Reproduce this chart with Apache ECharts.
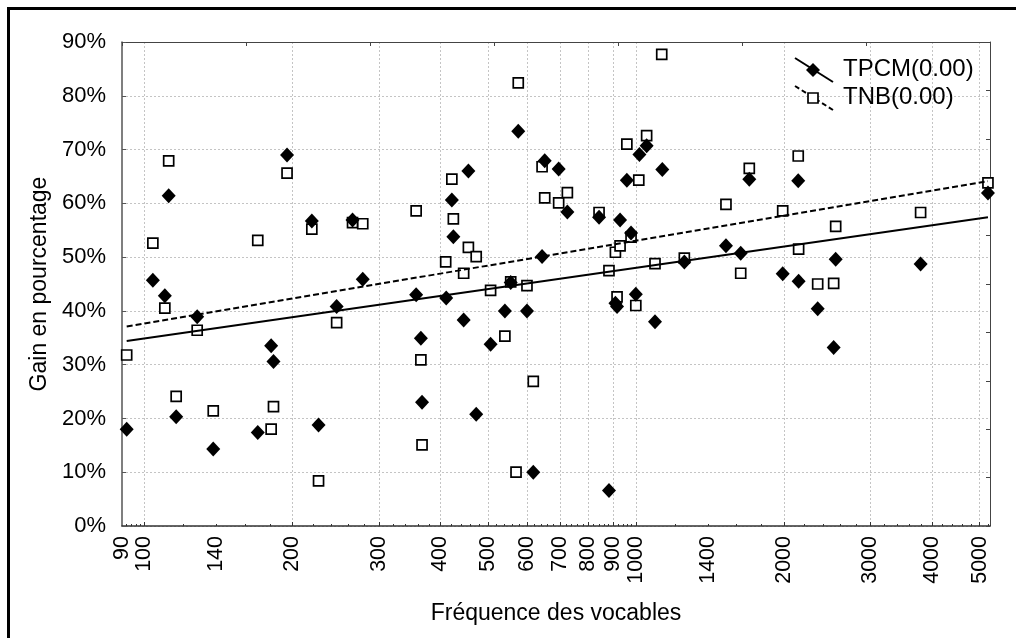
<!DOCTYPE html>
<html>
<head>
<meta charset="utf-8">
<script src="https://cdn.jsdelivr.net/npm/echarts@6/dist/echarts.min.js"></script>
<style>
  html, body { margin: 0; padding: 0; background: #fff; }
  #chart { width: 1016px; height: 638px; }
</style>
</head>
<body>
<div id="chart"></div>
<script>
// Gain (%) against vocable frequency, two methods
const tpcmFreq = [92, 104, 110, 112, 116, 128, 138, 170, 181, 183, 195, 219, 226, 246, 265, 278,
  357, 365, 367, 411, 422, 425, 446, 456, 473, 506, 541, 556, 576, 600, 618, 644, 652, 696, 725,
  841, 881, 908, 915, 928, 958, 977, 999, 1016, 1051, 1093, 1131, 1254, 1524, 1633, 1700, 1988,
  2138, 2142, 2342, 2524, 2548, 3793, 5200];
const tpcmGain = [18.0, 45.7, 42.8, 61.4, 20.3, 38.9, 14.3, 17.4, 33.5, 30.6, 69.0, 56.7, 18.8, 40.8, 56.9, 45.9,
  43.0, 34.9, 23.0, 42.4, 60.6, 53.8, 38.3, 66.0, 20.8, 33.8, 40.0, 45.3, 73.4, 40.0, 10.0, 50.1, 67.9, 66.4, 58.4,
  57.4, 6.6, 41.4, 40.8, 56.9, 64.3, 54.5, 43.1, 69.1, 70.7, 38.0, 66.3, 49.1, 52.1, 50.7, 64.5, 46.9,
  64.2, 45.5, 40.4, 33.2, 49.6, 48.7, 61.9];

const tnbFreq = [92, 104, 110, 112, 116, 128, 138, 170, 181, 183, 195, 219, 226, 246, 265, 278,
  357, 365, 367, 410, 422, 425, 446, 456, 473, 506, 541, 556, 570, 576, 600, 618, 644, 652, 696, 725,
  841, 881, 908, 915, 928, 958, 977, 999, 1013, 1051, 1093, 1128, 1254, 1524, 1633, 1700, 1988,
  2138, 2142, 2342, 2524, 2548, 3793, 5200];
const tnbGain = [31.8, 52.6, 40.5, 67.9, 24.1, 36.4, 21.4, 53.1, 18.0, 22.2, 65.6, 55.2, 8.4, 37.8, 56.4, 56.2,
  58.6, 30.9, 15.1, 49.1, 64.5, 57.1, 47.0, 51.8, 50.1, 43.8, 35.3, 45.4, 10.0, 82.4, 44.7, 26.9, 66.8, 61.0, 60.1, 62.0,
  58.3, 47.5, 50.9, 42.6, 52.1, 71.0, 53.7, 41.0, 64.3, 72.6, 48.8, 87.7, 49.8, 59.8, 47.0, 66.5, 58.6,
  68.8, 51.5, 45.0, 45.1, 55.7, 58.3, 63.8];

// Fitted trend lines (end points)
const fitTPCM = [[92, 34.4], [5200, 57.4]];
const fitTNB = [[92, 37.1], [5200, 64.1]];

// Axis labels and tick marks
const freqLabels = [90, 100, 140, 200, 300, 400, 500, 600, 700, 800, 900, 1000, 1400, 2000, 3000, 4000, 5000];
const freqMajor = [100, 200, 300, 400, 500, 600, 700, 800, 900, 1000, 2000, 3000, 4000, 5000];
const freqMinor = [];
for (let v = 92; v < 100; v += 2) freqMinor.push(v);
for (let v = 120; v < 1000; v += 20) freqMinor.push(v);
for (let v = 1200; v <= 5200; v += 200) freqMinor.push(v);

const legendNames = ['TPCM(0.00)', 'TNB(0.00)'];

const FONT = '"Liberation Sans", Arial, sans-serif';
const pair = (xs, ys) => xs.map((x, i) => [x, ys[i]]);

const chart = echarts.init(document.getElementById('chart'), null, { renderer: 'canvas' });

const gridLine = { show: true, lineStyle: { color: '#c4c4c4', width: 1, type: [2, 2] } };

chart.setOption({
  backgroundColor: '#fff',
  animation: false,
  grid: { left: 122, right: 26, top: 42, bottom: 112, containLabel: false },
  xAxis: [
    {
      type: 'log', logBase: 10, min: 90, max: 5250, position: 'bottom',
      name: 'Fréquence des vocables', nameLocation: 'middle', nameGap: 76,
      nameTextStyle: { fontFamily: FONT, fontSize: 23, color: '#000' },
      axisLine: { show: true, lineStyle: { color: '#333', width: 1.5 } },
      axisTick: { show: true, inside: true, length: 4, customValues: freqMajor, lineStyle: { color: '#333' } },
      axisLabel: {
        customValues: freqLabels, rotate: 90, margin: 10,
        formatter: v => String(Math.round(v)),
        fontFamily: FONT, fontSize: 21.5, color: '#000'
      },
      splitLine: gridLine
    },
    {
      type: 'log', logBase: 10, min: 90, max: 5250, position: 'bottom',
      axisLine: { show: false },
      axisTick: { show: true, inside: true, length: 2, customValues: freqMinor, lineStyle: { color: '#333' } },
      axisLabel: { show: false },
      splitLine: { show: false }
    },
    {
      type: 'value', min: 0, max: 7, interval: 1, position: 'top',
      axisLine: { show: true, onZero: false, lineStyle: { color: '#444', width: 1 } },
      axisTick: { show: true, inside: true, length: 4, lineStyle: { color: '#444' } },
      axisLabel: { show: false },
      splitLine: { show: false }
    }
  ],
  yAxis: [
    {
      type: 'value', min: 0, max: 90, interval: 10, position: 'left',
      name: 'Gain en pourcentage', nameLocation: 'middle', nameGap: 70,
      nameTextStyle: { fontFamily: FONT, fontSize: 23, color: '#000' },
      axisLine: { show: true, onZero: false, lineStyle: { color: '#555', width: 1.5 } },
      axisTick: { show: true, inside: true, length: 4, lineStyle: { color: '#555' } },
      axisLabel: { formatter: '{value}%', margin: 16, fontFamily: FONT, fontSize: 22, color: '#000' },
      splitLine: gridLine
    },
    {
      type: 'value', min: 0, max: 10, interval: 1, position: 'right',
      axisLine: { show: true, onZero: false, lineStyle: { color: '#444', width: 1 } },
      axisTick: { show: true, inside: true, length: 4, lineStyle: { color: '#444' } },
      axisLabel: { show: false },
      splitLine: { show: false }
    }
  ],
  series: [
    {
      name: legendNames[1], type: 'scatter', xAxisIndex: 0, yAxisIndex: 0,
      data: pair(tnbFreq, tnbGain),
      symbol: 'rect', symbolSize: 10, z: 3,
      itemStyle: { color: '#fff', borderColor: '#000', borderWidth: 1.7, opacity: 1 }
    },
    {
      name: legendNames[0], type: 'scatter', xAxisIndex: 0, yAxisIndex: 0,
      data: pair(tpcmFreq, tpcmGain),
      symbol: 'diamond', symbolSize: [14, 15], z: 4,
      itemStyle: { color: '#000', opacity: 1 }
    },
    {
      type: 'line', xAxisIndex: 0, yAxisIndex: 0, data: fitTNB,
      showSymbol: false, symbol: 'none', z: 5,
      lineStyle: { color: '#000', width: 2, type: [6, 3], opacity: 1 }
    },
    {
      type: 'line', xAxisIndex: 0, yAxisIndex: 0, data: fitTPCM,
      showSymbol: false, symbol: 'none', z: 5,
      lineStyle: { color: '#000', width: 2, opacity: 1 }
    }
  ],
  graphic: [
    // frame of the figure
    {
      type: 'polyline', z: 100,
      shape: { points: [[8.5, 700], [8.5, 8.5], [1100, 8.5]] },
      style: { stroke: '#000', lineWidth: 3, fill: null }
    },
    // legend: TPCM
    {
      type: 'line', z: 100,
      shape: { x1: 795, y1: 58, x2: 833, y2: 82 },
      style: { stroke: '#000', lineWidth: 2 }
    },
    {
      type: 'polygon', z: 101,
      shape: { points: [[813, 63], [820, 70], [813, 77], [806, 70]] },
      style: { fill: '#000' }
    },
    {
      type: 'text', z: 100, left: 843, top: 57,
      style: { text: legendNames[0], fontFamily: FONT, fontSize: 24, fill: '#000' }
    },
    // legend: TNB
    {
      type: 'line', z: 100,
      shape: { x1: 795, y1: 86, x2: 833, y2: 110 },
      style: { stroke: '#000', lineWidth: 2, lineDash: [5, 3] }
    },
    {
      type: 'rect', z: 101,
      shape: { x: 808, y: 93, width: 10, height: 10 },
      style: { fill: '#fff', stroke: '#000', lineWidth: 1.7 }
    },
    {
      type: 'text', z: 100, left: 843, top: 85,
      style: { text: legendNames[1], fontFamily: FONT, fontSize: 24, fill: '#000' }
    }
  ]
});
</script>
</body>
</html>
